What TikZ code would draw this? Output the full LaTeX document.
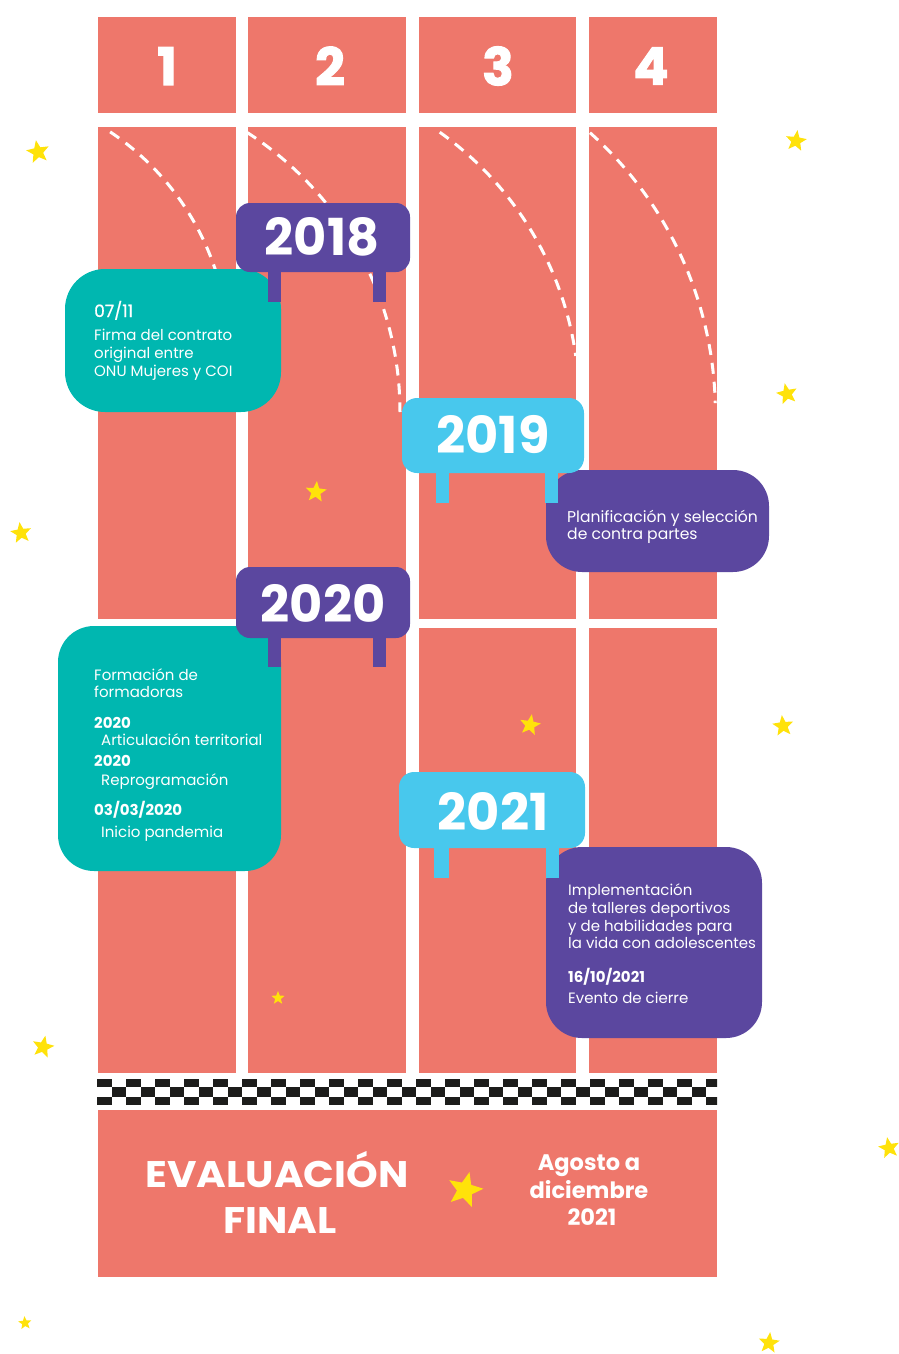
\documentclass[tikz,border=0pt]{standalone}
\usepackage{fontspec}
\usepackage{graphicx}
\setmainfont{Poppins}
\newfontfamily\heavyfont{Poppins}[BoldFeatures={FakeBold=2}]
\newfontfamily\medfont{Poppins}[FakeBold=0.8]
\usepackage{tikz}
\usetikzlibrary{shapes.geometric}

\definecolor{lanecoral}{HTML}{EE776B}
\definecolor{plum}{HTML}{5B479F}
\definecolor{seateal}{HTML}{00B7B0}
\definecolor{skyblue}{HTML}{48C8ED}
\definecolor{stargold}{HTML}{FFE20A}
\definecolor{checker}{HTML}{1D1D1B}

\tikzset{
  lanebox/.style={fill=lanecoral},
  trackline/.style={white, line width=3pt, dash pattern=on 11pt off 8pt},
  lanenum/.style={text=white, inner sep=0, font=\heavyfont\bfseries\fontsize{52}{52}\selectfont},
  yeartext/.style={text=white, inner sep=0, font=\bfseries\fontsize{51}{51}\selectfont},
  infotext/.style={text=white, inner sep=0, align=left, anchor=base west, font=\fontsize{15}{18}\selectfont},
  finaltext/.style={text=white, inner sep=0, anchor=base, font=\bfseries\fontsize{37}{37}\selectfont},
  datetext/.style={text=white, inner sep=0, anchor=base, font=\bfseries\fontsize{22.5}{22.5}\selectfont},
  staricon/.style={star, star points=5, star point ratio=2.3, fill=stargold, inner sep=0, minimum size=#1},
}

\begin{document}
\begin{tikzpicture}[x=1pt,y=-1pt]
  \useasboundingbox (0,0) rectangle (899,1354);

  % Lanes and headers
  \foreach \l/\r/\n in {98/236/1, 248/406/2, 419/576/3, 589/717/4} {
    \fill[lanebox] (\l,17) rectangle (\r,113);
    \fill[lanebox] (\l,127) rectangle (\r,619);
    \fill[lanebox] (\l,628) rectangle (\r,1073);
  }
  \node[lanenum] (num1) at (167,66) {1};
  \node[lanenum] (num2) at (330,66) {2};
  \node[lanenum] (num3) at (498,66) {3};
  \node[lanenum] (num4) at (651,66) {4};

  % Dashed curves
  \draw[trackline] (-38,354) ++(-56.3:267) arc[start angle=-56.3, end angle=0, radius=267];
  \draw[trackline] (68,412) ++(-57.4:332) arc[start angle=-57.4, end angle=0, radius=332];
  \draw[trackline] (248,402) ++(-54.6:331) arc[start angle=-54.6, end angle=-8, radius=331];
  \draw[trackline] (339.4,413) ++(-48.2:376) arc[start angle=-48.2, end angle=-1.5, radius=376];

  % Info boxes
  \fill[seateal, rounded corners=40pt] (65,269) rectangle (281,412);
  \fill[plum, rounded corners=36pt] (546,470) rectangle (769,572);
  \fill[seateal, rounded corners=36pt] (58,626) rectangle (281,871);
  \fill[plum, rounded corners=36pt] (546,847) rectangle (762,1038);

  % (each text node sits on the baseline of its last line)
  \node[infotext] (txt2018) at (94,376) {{\medfont\fontsize{17}{18}\selectfont 07/11}\\[5pt]
    Firma del contrato\\original entre\\ONU Mujeres y COI};
  \node[infotext, font=\fontsize{15.6}{18}\selectfont] (txt2019) at (567,539)
    {Planificación y selección\\[-1pt]de contra partes};
  \node[infotext] (txt2020) at (94,837) {Formación de\\[-1pt]formadoras\\[13pt]
    \textbf{2020}\\[-1pt]\hspace*{7pt}Articulación territorial\\[3pt]
    \textbf{2020}\\[1pt]\hspace*{7pt}Reprogramación\\[10pt]
    \textbf{03/03/2020}\\[4pt]\hspace*{7pt}Inicio pandemia};
  \node[infotext] (txt2021) at (568,1003) {Implementación\\de talleres deportivos\\
    y de habilidades para\\[-1pt]la vida con adolescentes\\[16pt]
    \textbf{16/10/2021}\\[3pt]Evento de cierre};

  % Year signs
  \fill[plum, rounded corners=14pt] (236,203) rectangle (410,272);
  \fill[plum] (268,265) rectangle (281,302);
  \fill[plum] (373,265) rectangle (386,302);
  \node[yeartext] (y2018) at (322,237) {2018};

  \fill[skyblue, rounded corners=15pt] (402,398) rectangle (584,473);
  \fill[skyblue] (436,465) rectangle (449,503);
  \fill[skyblue] (545,465) rectangle (558,503);
  \node[yeartext] (y2019) at (493,435) {2019};

  \fill[plum, rounded corners=14pt] (236,567) rectangle (410,638);
  \fill[plum] (268,630) rectangle (281,667);
  \fill[plum] (373,630) rectangle (386,667);
  \node[yeartext] (y2020) at (323,603) {2020};

  \fill[skyblue, rounded corners=15pt] (399,772) rectangle (585,848);
  \fill[skyblue] (434,840) rectangle (449,878);
  \fill[skyblue] (546,840) rectangle (559,878);
  \node[yeartext] (y2021) at (493,811) {2021};

  % Finish line
  \begin{scope}
    \clip (97,1079) rectangle (717,1105);
    \foreach \i in {0,2,...,42} {
      \fill[checker] ({97+14.5*\i},1079) rectangle +(14.5,8.3);
      \fill[checker] ({97+14.5*\i},1096.7) rectangle +(14.5,8.3);
    }
    \foreach \i in {1,3,...,41}
      \fill[checker] ({97+14.5*\i},1087.3) rectangle +(14.5,9.4);
  \end{scope}

  % Final block
  \fill[lanebox] (98,1110) rectangle (717,1277);
  \node[finaltext] (evalA) at (277,1187) {\scalebox{1.09}[1]{EVALUACIÓN}};
  \node[finaltext] (evalB) at (280,1233) {\scalebox{1.09}[1]{FINAL}};
  \node[datetext] (dateA) at (589,1170) {Agosto a};
  \node[datetext] (dateB) at (589,1198) {diciembre};
  \node[datetext] (dateC) at (592,1225) {2021};

  % Stars
  \foreach \x/\y/\s/\r [count=\k] in {38/152/24/10, 796/141/22/-8, 787/394/22/12,
      316/492/22/-5, 21/533/22/8, 530/725/22/-10, 783/726/22/6, 278/998/14/0,
      43/1047/23/-12, 889/1148/22/10, 465/1190/37/-14, 25/1323/14/5, 769/1343/22/-6}
    \node[staricon=\s pt, rotate=\r] (star\k) at (\x,\y) {};
\end{tikzpicture}
\end{document}
